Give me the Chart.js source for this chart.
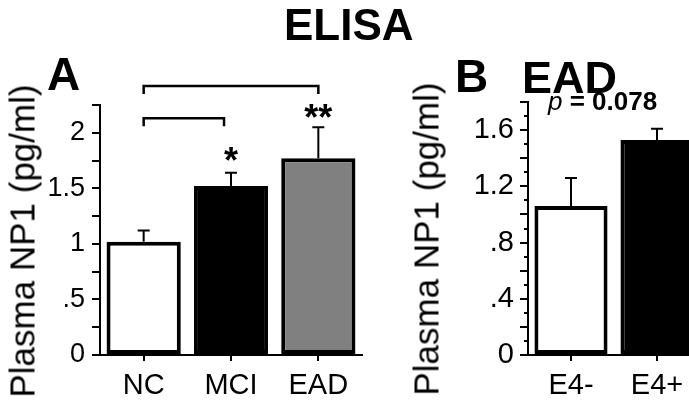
<!DOCTYPE html>
<html>
<head>
<meta charset="utf-8">
<script src="https://cdn.jsdelivr.net/npm/chart.js@4.4.1/dist/chart.umd.min.js"></script>
<style>
  html, body { margin: 0; padding: 0; background: #fff; overflow: hidden; }
  body { width: 689px; height: 409px; position: relative; font-family: "Liberation Sans", Arial, sans-serif; }
  .lbl { position: absolute; font-weight: bold; line-height: 1; color: #000; white-space: nowrap; }
  .ytitle { position: absolute; line-height: 1; color: #000; white-space: nowrap; font-size: 35px;
            transform: translate(-50%, -50%) rotate(-90deg); }
  #chartA { position: absolute; left: 0; top: 0; }
  #chartB { position: absolute; left: 395px; top: 0; }
</style>
</head>
<body>
<canvas id="chartA" width="375" height="409"></canvas>
<canvas id="chartB" width="310" height="409"></canvas>

<div class="lbl" style="left:284px;top:3px;font-size:44px">ELISA</div>
<div class="lbl" style="left:47px;top:51px;font-size:46px">A</div>
<div class="lbl" style="left:455px;top:53px;font-size:46px">B</div>
<div class="lbl" style="left:522px;top:55px;font-size:45px">EAD</div>
<div class="lbl" style="left:548px;top:88px;font-size:26px"><span style="font-style:italic;font-weight:normal">p</span> = 0.078</div>
<div class="ytitle" style="left:22px;top:241px">Plasma NP1 (pg/ml)</div>
<div class="ytitle" style="left:426px;top:239px">Plasma NP1 (pg/ml)</div>

<script>
// panel A : ELISA, all groups
var groupsA = ['NC', 'MCI', 'EAD'];
var meansA = [1.02, 1.52, 1.77];
var errA = [0.10, 0.12, 0.28];
var colorsA = ['#ffffff', '#000000', '#808080'];
var labelTicksA = [0, 0.5, 1, 1.5, 2];
var starsA = ['', '*', '**'];

// panel B : EAD split by ApoE4
var groupsB = ['E4-', 'E4+'];
var meansB = [1.06, 1.53];
var errB = [0.20, 0.08];
var colorsB = ['#ffffff', '#000000'];
var labelTicksB = [0, 0.4, 0.8, 1.2, 1.6];

var FONT = '"Liberation Sans", Arial, sans-serif';

function fmt(v) {
  if (v === 0) return '0';
  return String(v).replace(/^0\./, '.');
}

function pickLabel(list) {
  return function(value) {
    for (var i = 0; i < list.length; i++) {
      if (Math.abs(list[i] - value) < 1e-6) return fmt(list[i]);
    }
    return '';
  };
}

// error bars (upper half only) + optional stars
var errorBars = {
  id: 'errorBars',
  afterDatasetsDraw: function(chart, args, opts) {
    var ctx = chart.ctx;
    var y = chart.scales.y;
    var meta = chart.getDatasetMeta(0);
    var means = chart.data.datasets[0].data;
    ctx.save();
    ctx.strokeStyle = '#000';
    ctx.lineWidth = 2;
    meta.data.forEach(function(bar, i) {
      var top = y.getPixelForValue(means[i] + opts.err[i]);
      ctx.beginPath();
      ctx.moveTo(bar.x, bar.y);
      ctx.lineTo(bar.x, top);
      ctx.moveTo(bar.x - 6, top);
      ctx.lineTo(bar.x + 6, top);
      ctx.stroke();
      if (opts.stars && opts.stars[i]) {
        ctx.fillStyle = '#000';
        ctx.font = 'bold 36px ' + FONT;
        ctx.textAlign = 'center';
        ctx.textBaseline = 'alphabetic';
        ctx.fillText(opts.stars[i], bar.x, top + (opts.stars[i].length > 1 ? 3 : 0));
      }
    });
    ctx.restore();
  }
};

// significance brackets, [from, to, level] in category index / value units
var brackets = {
  id: 'brackets',
  afterDraw: function(chart, args, opts) {
    if (!opts.list) return;
    var ctx = chart.ctx;
    var x = chart.scales.x, y = chart.scales.y;
    ctx.save();
    ctx.strokeStyle = '#000';
    ctx.lineWidth = 2.5;
    opts.list.forEach(function(b) {
      var x1 = x.getPixelForValue(b[0]), x2 = x.getPixelForValue(b[1]);
      var yy = y.getPixelForValue(b[2]);
      ctx.beginPath();
      ctx.moveTo(x1, yy + 8);
      ctx.lineTo(x1, yy);
      ctx.lineTo(x2, yy);
      ctx.lineTo(x2, yy + 8);
      ctx.stroke();
    });
    ctx.restore();
  }
};

// short minor ticks between the major ones
var minorTicks = {
  id: 'minorTicks',
  afterDraw: function(chart, args, opts) {
    if (!opts.step) return;
    var ctx = chart.ctx;
    var y = chart.scales.y;
    var ax = chart.chartArea.left;
    ctx.save();
    ctx.strokeStyle = '#000';
    ctx.lineWidth = 2;
    for (var v = opts.step; v < y.max; v += opts.step * 2) {
      var p = Math.round(y.getPixelForValue(v));
      ctx.beginPath();
      ctx.moveTo(ax - 4, p);
      ctx.lineTo(ax, p);
      ctx.stroke();
    }
    ctx.restore();
  }
};

function makeChart(id, labels, means, colors, err, opt) {
  return new Chart(document.getElementById(id), {
    type: 'bar',
    data: {
      labels: labels,
      datasets: [{
        data: means,
        backgroundColor: colors,
        borderColor: '#000',
        borderWidth: 4,
        borderSkipped: false,
        barPercentage: 0.85,
        categoryPercentage: 1.0
      }]
    },
    options: {
      responsive: false,
      animation: false,
      devicePixelRatio: 1,
      layout: { padding: { top: opt.top, right: opt.right, left: 0, bottom: 0 } },
      plugins: {
        legend: { display: false },
        tooltip: { enabled: false },
        errorBars: { err: err, stars: opt.stars },
        brackets: { list: opt.brackets },
        minorTicks: { step: opt.minor }
      },
      scales: {
        x: {
          afterFit: function(s) { s.height = 54; },
          border: { display: true, color: '#000', width: 2 },
          grid: { drawOnChartArea: false, offset: false, color: '#000', lineWidth: 2, tickLength: 6 },
          ticks: { color: '#000', padding: 8, font: { family: FONT, size: 29 } }
        },
        y: {
          min: 0,
          max: opt.max,
          afterFit: function(s) { s.width = opt.yWidth; },
          border: { display: true, color: '#000', width: 2 },
          grid: { drawOnChartArea: false, color: '#000', lineWidth: 2, tickLength: 8 },
          ticks: {
            stepSize: opt.step,
            autoSkip: false,
            color: '#000',
            padding: opt.tickPad,
            font: { family: FONT, size: opt.tickSize },
            callback: pickLabel(opt.labelTicks)
          }
        }
      }
    },
    plugins: [errorBars, brackets, minorTicks]
  });
}

makeChart('chartA', groupsA, meansA, colorsA, errA, {
  top: 105, right: 13, yWidth: 100, max: 2.25, step: 0.25, tickPad: 7, tickSize: 27,
  labelTicks: labelTicksA, stars: starsA,
  brackets: [[0, 0.92, 2.13], [0, 2, 2.42]]
});

makeChart('chartB', groupsB, meansB, colorsB, errB, {
  top: 102, right: 5, yWidth: 133, max: 1.8, step: 0.2, tickPad: 6, tickSize: 29,
  labelTicks: labelTicksB, minor: 0.1
});
</script>
</body>
</html>
